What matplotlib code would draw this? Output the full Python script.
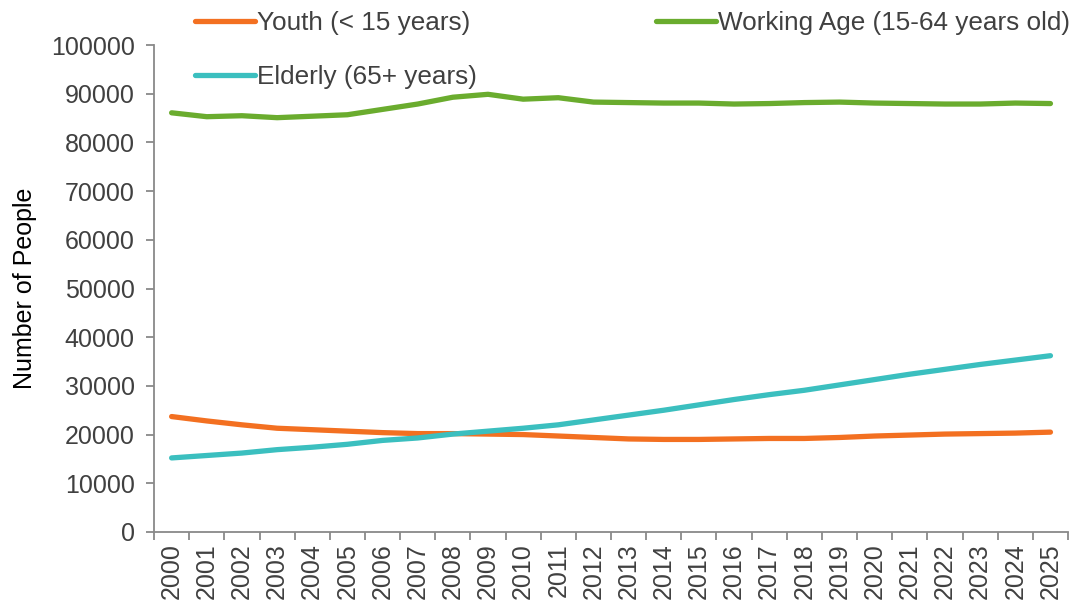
import matplotlib.pyplot as plt
import numpy as np

plt.rcParams['font.family'] = ['Liberation Sans', 'DejaVu Sans']

years = list(range(2000, 2026))
youth = [23700, 22800, 22000, 21300, 21000, 20700, 20400, 20200, 20200, 20100,
         20000, 19700, 19400, 19100, 19000, 19000, 19100, 19200, 19200, 19400,
         19700, 19900, 20100, 20200, 20300, 20500]
working = [86100, 85300, 85500, 85100, 85400, 85700, 86800, 87900, 89300, 89900,
           88900, 89200, 88300, 88200, 88100, 88100, 87900, 88000, 88200, 88300,
           88100, 88000, 87900, 87900, 88100, 88000]
elderly = [15200, 15700, 16200, 16900, 17400, 18000, 18800, 19300, 20100, 20700,
           21300, 22000, 23000, 24000, 25000, 26100, 27200, 28200, 29100, 30200,
           31300, 32400, 33400, 34400, 35300, 36200]

fig = plt.figure(figsize=(10.81, 6.10), dpi=100)
ax = fig.add_axes([0.1425, 0.128, 0.8455, 0.798])

x = np.arange(len(years))
lw = 3.8
l1, = ax.plot(x, youth, color='#F37021', lw=lw, solid_capstyle='round', label='Youth (< 15 years)')
l2, = ax.plot(x, working, color='#6AAC2E', lw=lw, solid_capstyle='round', label='Working Age (15-64 years old)')
l3, = ax.plot(x, elderly, color='#3BBFBF', lw=lw, solid_capstyle='round', label='Elderly (65+ years)')

ax.set_xlim(-0.5, len(years) - 0.5)
ax.set_ylim(0, 100000)
ax.set_yticks(np.arange(0, 100001, 10000))

# ticks at category boundaries, labels at centres
ax.set_xticks(np.arange(-0.5, len(years), 1.0))
ax.set_xticklabels([])
ax.set_xticks(x, minor=True)
ax.set_xticklabels([str(y) for y in years], minor=True, rotation=90)
ax.tick_params(axis='x', which='minor', length=0, pad=8, labelsize=18, labelcolor='#404040')
ax.tick_params(axis='x', which='major', length=6, width=1.3, color='#898989', direction='out')
ax.tick_params(axis='y', length=6, width=1.3, color='#898989', direction='out', pad=8,
               labelsize=18, labelcolor='#404040')

for s in ['top', 'right']:
    ax.spines[s].set_visible(False)
for s in ['left', 'bottom']:
    ax.spines[s].set_color('#898989')
    ax.spines[s].set_linewidth(1.3)

ax.set_ylabel('Number of People', fontsize=18, color='black', labelpad=10)

fig.legend(handles=[l1, l3, l2], ncol=2, loc='upper left',
           bbox_to_anchor=(195 / 1081, 1 - 11 / 610), frameon=False,
           fontsize=18.8, handlelength=2.3, handletextpad=0.08,
           columnspacing=6.85, labelspacing=1.15, borderpad=0, borderaxespad=0,
           labelcolor='#404040')

fig.savefig('out.png', dpi=100)
